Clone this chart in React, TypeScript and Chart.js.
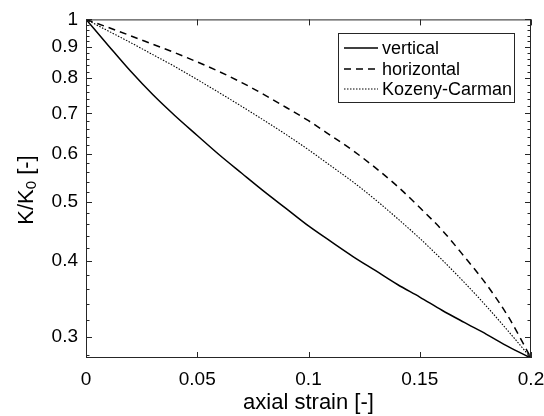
import React, { useEffect, useRef } from "react";
import { Chart, registerables } from "chart.js";

Chart.register(...registerables);

const strain = [0, 0.01, 0.02, 0.03, 0.04, 0.05, 0.06, 0.07, 0.08, 0.09, 0.1, 0.11, 0.12, 0.13, 0.14, 0.15, 0.16, 0.17, 0.18, 0.19, 0.2];
const vertical = [1.0, 0.906, 0.822, 0.752, 0.694, 0.644, 0.598, 0.558, 0.521, 0.488, 0.457, 0.431, 0.407, 0.386, 0.366, 0.349, 0.332, 0.317, 0.303, 0.289, 0.277];
const horizontal = [1.0, 0.97, 0.94, 0.91, 0.881, 0.851, 0.82, 0.787, 0.752, 0.716, 0.681, 0.644, 0.608, 0.57, 0.531, 0.49, 0.45, 0.407, 0.366, 0.323, 0.277];
const kozenyCarman = [1.0, 0.957, 0.916, 0.875, 0.836, 0.796, 0.757, 0.719, 0.682, 0.646, 0.61, 0.574, 0.54, 0.505, 0.47, 0.436, 0.402, 0.369, 0.337, 0.306, 0.277];

const seriesNames = ["vertical", "horizontal", "Kozeny-Carman"];
const xTicks = [0, 0.05, 0.1, 0.15, 0.2];
const xTickLabels = ["0", "0.05", "0.1", "0.15", "0.2"];
const yLabelTicks = [0.3, 0.4, 0.5, 0.6, 0.7, 0.8, 0.9, 1];
const yTickLabels = ["0.3", "0.4", "0.5", "0.6", "0.7", "0.8", "0.9", "1"];
const yMin = 0.277;
const yMax = 1;

const FONT = "'Liberation Sans', Arial, Helvetica, sans-serif";
const AXIS = "#262626";

const yMinorTicks: number[] = [];
for (let i = 14; i <= 50; i++) yMinorTicks.push(Math.round(i * 2) / 100);

const dashStyles = [[], [7, 5], [1.5, 1.5]];
const widths = [1.5, 1.5, 1.1];

const decorPlugin = {
  id: "decor",
  afterDatasetsDraw(chart: any) {
    const { ctx, chartArea } = chart;
    const xs = chart.scales.x;
    const ys = chart.scales.y;
    const { left, right, top, bottom } = chartArea;
    ctx.save();
    ctx.strokeStyle = AXIS;
    ctx.lineWidth = 1;
    ctx.setLineDash([]);
    ctx.strokeRect(left + 0.5, top + 0.5, right - left - 1, bottom - top - 1);
    ctx.beginPath();
    xTicks.forEach((v) => {
      const px = Math.round(xs.getPixelForValue(v)) + 0.5;
      ctx.moveTo(px, bottom);
      ctx.lineTo(px, bottom - 6);
      ctx.moveTo(px, top);
      ctx.lineTo(px, top + 6);
    });
    yMinorTicks.forEach((v) => {
      const major = yLabelTicks.some((t) => Math.abs(t - v) < 1e-6);
      const len = major ? 6 : 3.5;
      const py = Math.round(ys.getPixelForValue(v)) + 0.5;
      ctx.moveTo(left, py);
      ctx.lineTo(left + len, py);
      ctx.moveTo(right, py);
      ctx.lineTo(right - len, py);
    });
    ctx.stroke();

    // legend
    const bx = 338.5, by = 33.5, bw = 176, bh = 69;
    ctx.fillStyle = "#ffffff";
    ctx.fillRect(bx, by, bw, bh);
    ctx.strokeStyle = AXIS;
    ctx.lineWidth = 1;
    ctx.strokeRect(bx, by, bw, bh);
    const rows = [48, 69, 89];
    ctx.font = `18px ${FONT}`;
    ctx.textBaseline = "middle";
    ctx.textAlign = "left";
    seriesNames.forEach((name, i) => {
      ctx.beginPath();
      ctx.setLineDash(dashStyles[i]);
      ctx.lineWidth = widths[i];
      ctx.strokeStyle = "#000";
      ctx.moveTo(344, rows[i]);
      ctx.lineTo(378, rows[i]);
      ctx.stroke();
      ctx.setLineDash([]);
      ctx.fillStyle = "#000";
      ctx.fillText(name, 382, rows[i] + 1);
    });

    // y title with subscript
    ctx.save();
    ctx.translate(33, 190);
    ctx.rotate(-Math.PI / 2);
    ctx.fillStyle = "#000";
    ctx.textBaseline = "alphabetic";
    ctx.textAlign = "left";
    const big = `22px ${FONT}`;
    const small = `15px ${FONT}`;
    ctx.font = big;
    const p1 = "K/K";
    const p3 = " [-]";
    const w1 = ctx.measureText(p1).width;
    const w3 = ctx.measureText(p3).width;
    ctx.font = small;
    const w2 = ctx.measureText("0").width;
    const total = w1 + w2 + w3;
    let x0 = -total / 2;
    ctx.font = big;
    ctx.fillText(p1, x0, 0);
    x0 += w1;
    ctx.font = small;
    ctx.fillText("0", x0, 3);
    x0 += w2;
    ctx.font = big;
    ctx.fillText(p3, x0, 0);
    ctx.restore();

    ctx.restore();
  },
};

export default function App() {
  const ref = useRef<HTMLCanvasElement | null>(null);
  useEffect(() => {
    document.body.style.margin = "0";
    const canvas = ref.current;
    if (!canvas) return;
    const mk = (vals: number[]) => strain.map((s, i) => ({ x: s, y: vals[i] }));
    const chart = new Chart(canvas, {
      type: "line",
      data: {
        datasets: [vertical, horizontal, kozenyCarman].map((vals, i) => ({
          label: seriesNames[i],
          data: mk(vals),
          borderColor: "#000",
          borderWidth: widths[i],
          borderDash: dashStyles[i],
          pointRadius: 0,
          fill: false,
          cubicInterpolationMode: "monotone" as const,
        })),
      },
      options: {
        animation: false,
        responsive: false,
        devicePixelRatio: 1,
        layout: { padding: { top: 19, right: 0, left: 0, bottom: 0 } },
        plugins: { legend: { display: false }, tooltip: { enabled: false } },
        scales: {
          x: {
            type: "linear",
            min: 0,
            max: 0.2,
            afterBuildTicks: (scale: any) => {
              scale.ticks = xTicks.map((v) => ({ value: v }));
            },
            afterFit: (scale: any) => {
              scale.height = 58;
              scale.paddingRight = 13;
            },
            grid: { display: false, drawTicks: false },
            border: { display: false },
            ticks: {
              autoSkip: false,
              maxRotation: 0,
              padding: 10,
              color: "#000",
              font: { family: FONT, size: 19 },
              callback: (v: any) => {
                const i = xTicks.findIndex((t) => Math.abs(t - Number(v)) < 1e-9);
                return i >= 0 ? xTickLabels[i] : "";
              },
            },
            title: {
              display: true,
              text: "axial strain [-]",
              color: "#000",
              font: { family: FONT, size: 22 },
              padding: { top: 0, bottom: 0 },
            },
          },
          y: {
            type: "logarithmic",
            min: yMin,
            max: yMax,
            afterBuildTicks: (scale: any) => {
              scale.ticks = yLabelTicks.map((v) => ({ value: v }));
            },
            afterFit: (scale: any) => {
              scale.width = 86;
            },
            grid: { display: false, drawTicks: false },
            border: { display: false },
            ticks: {
              autoSkip: false,
              padding: 8,
              color: "#000",
              font: { family: FONT, size: 19 },
              callback: (v: any) => {
                const i = yLabelTicks.findIndex((t) => Math.abs(t - Number(v)) < 1e-9);
                return i >= 0 ? yTickLabels[i] : "";
              },
            },
          },
        },
      },
      plugins: [decorPlugin],
    } as any);
    return () => chart.destroy();
  }, []);
  return (
    <div style={{ position: "absolute", left: 0, top: 0, width: 544, height: 416, background: "#fff" }}>
      <canvas ref={ref} width={544} height={416} style={{ width: 544, height: 416 }} />
    </div>
  );
}
